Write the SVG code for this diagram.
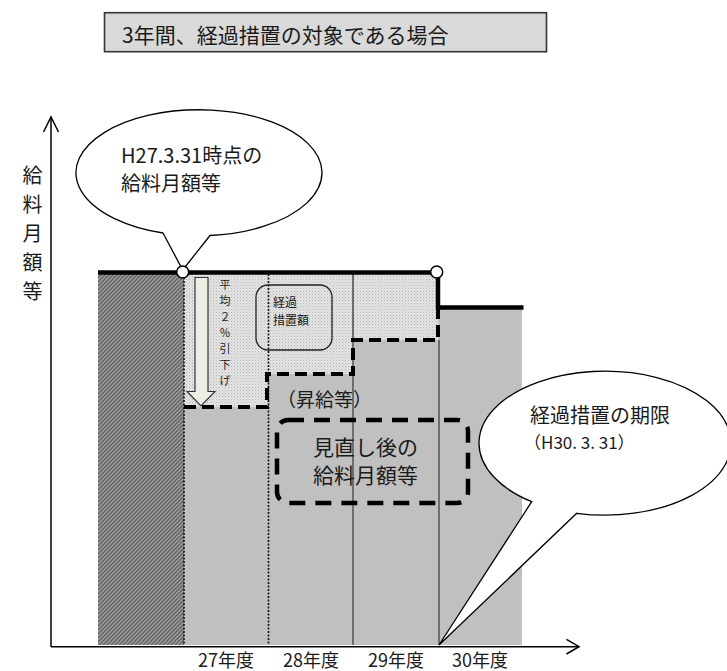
<svg xmlns="http://www.w3.org/2000/svg" width="727" height="671" viewBox="0 0 727 671">
<style>
text{font-family:"Noto Sans CJK JP","Noto Sans",sans-serif;fill:#1a1a1a}
.axis{stroke:#000;stroke-width:1.5;fill:none}
.thick{stroke:#000;stroke-width:4.5;fill:none}
.dash{stroke:#000;stroke-width:4;fill:none;stroke-dasharray:12 6}
.dotv{stroke:#111;stroke-width:1.6;stroke-dasharray:2 1.5}
.grayv{stroke:#6e6e6e;stroke-width:2}
.bubble{fill:#fff;stroke:#000;stroke-width:1.3}
.knot{fill:#fff;stroke:#000;stroke-width:1.5}
</style>
<defs>
<pattern id="hatch" width="4" height="4" patternUnits="userSpaceOnUse">
<rect width="4" height="4" fill="#9a9a9a"/>
<path d="M-1,1 l2,-2 M0,4 l4,-4 M3,5 l2,-2" stroke="#5a5a5a" stroke-width="1.2"/>
</pattern>
<pattern id="stip" width="3" height="3" patternUnits="userSpaceOnUse">
<rect width="3" height="3" fill="#e4e4e4"/>
<rect x="0" y="0" width="1" height="1" fill="#b4b4b4"/>
<rect x="1.5" y="1.5" width="1" height="1" fill="#c4c4c4"/>
</pattern>
</defs>

<g id="title">
<rect x="104.5" y="12.7" width="442" height="39" fill="#d9d9d9" stroke="#333" stroke-width="1.6"/>
<text x="122" y="43" font-size="21">3年間、経過措置の対象である場合</text>
</g>

<g id="y-label">
<text font-size="20" text-anchor="middle"><tspan x="32.5" y="182.6">給</tspan><tspan x="32.5" y="211.6">料</tspan><tspan x="32.5" y="240.6">月</tspan><tspan x="32.5" y="269.6">額</tspan><tspan x="32.5" y="298.6">等</tspan></text>
</g>

<g id="bars">
<rect id="bar-h27" x="98" y="273" width="86" height="372" fill="url(#hatch)"/>
<path id="area-transition" d="M184,273 H438 V340 H353 V374 H267 V407 H184 Z" fill="url(#stip)"/>
<path id="area-revised" d="M184,407 H267 V374 H353 V340 H438 V308 H522 V645 H184 Z" fill="#c0c0c0"/>
<line class="dotv" x1="184" y1="274" x2="184" y2="645"/>
<line class="dotv" x1="268.5" y1="274" x2="268.5" y2="645"/>
<line class="grayv" x1="353" y1="274" x2="353" y2="645"/>
<line class="grayv" x1="439" y1="340" x2="439" y2="645"/>
</g>

<g id="transition-box">
<rect x="256" y="285" width="76" height="65" rx="12" fill="none" stroke="#222" stroke-width="1.3"/>
<text x="273" y="307" font-size="12">経過</text>
<text x="273" y="324.5" font-size="12">措置額</text>
</g>

<g id="reduction-arrow">
<path d="M195,277.5 H208 V391.5 H215 L201,406 L187,391.5 H195 Z" fill="#eeeee4" stroke="#333" stroke-width="1.2"/>
<text font-size="11" text-anchor="middle"><tspan x="225" y="289">平</tspan><tspan x="225" y="305">均</tspan><tspan x="225" y="321">２</tspan><tspan x="225" y="337">％</tspan><tspan x="225" y="353">引</tspan><tspan x="225" y="369">下</tspan><tspan x="225" y="385">げ</tspan></text>
</g>

<g id="salary-outline">
<path class="dash" d="M184,407 H267 V374 H353 V340 H438 V308"/>
<path class="thick" d="M98,272.5 H438 V307.5 H523.5"/>
</g>

<g id="raise-label">
<text x="277" y="407" font-size="19">（昇給等）</text>
</g>

<g id="revised-box">
<rect x="277" y="420" width="191" height="83" rx="11" fill="none" stroke="#000" stroke-width="4.5" stroke-dasharray="16 10"/>
<text x="313" y="455" font-size="21">見直し後の</text>
<text x="313" y="483" font-size="21">給料月額等</text>
</g>

<g id="connectors">
<path class="axis" d="M51,647 V117"/>
<path class="axis" d="M43.5,132 L51,117 L58.5,132"/>
<path class="axis" d="M51,646.7 H579"/>
<path class="axis" d="M566.5,639.3 L579,646.7 L566.5,654"/>
</g>

<g id="callout-h27">
<path class="bubble" d="M163,233 A123,63 0 1 1 210,235.5 L182.7,270 Z"/>
<text x="121" y="162.6" font-size="20">H27.3.31時点の</text>
<text x="121" y="190.6" font-size="20">給料月額等</text>
</g>

<g id="callout-h30">
<path class="bubble" d="M531.7,501.7 A126,72 0 1 1 576.7,513.3 L439,645 Z"/>
<text x="530" y="422.6" font-size="20">経過措置の期限</text>
<text x="524" y="448.5" font-size="17">（H30. 3. 31）</text>
</g>

<g id="markers">
<circle class="knot" cx="182.7" cy="272" r="6"/>
<circle class="knot" cx="436.7" cy="272" r="6"/>
</g>

<g id="x-labels" font-size="18" text-anchor="middle">
<text x="226" y="667">27年度</text>
<text x="311" y="667">28年度</text>
<text x="396" y="667">29年度</text>
<text x="480" y="667">30年度</text>
</g>
</svg>
